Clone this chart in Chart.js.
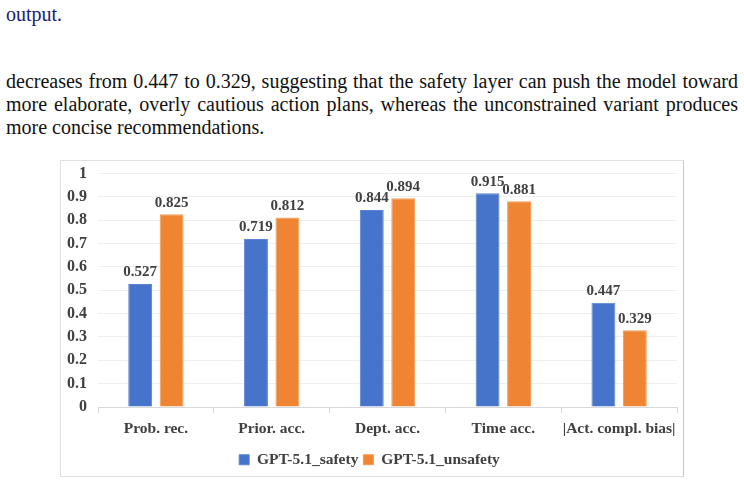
<!DOCTYPE html>
<html>
<head>
<meta charset="utf-8">
<script src="https://cdn.jsdelivr.net/npm/chart.js@4.4.0/dist/chart.umd.min.js"></script>
<style>
  body { margin: 0; width: 744px; height: 483px; background: #fff; position: relative; overflow: hidden; }
  .txt { position: absolute; left: 6px; width: 732px; font-family: "Liberation Serif", "Times New Roman", Times, serif;
         font-size: 20px; line-height: 23px; color: #111; white-space: nowrap; }
  .just { text-align: justify; text-align-last: justify; }
  #link { color: #1c1c78; top: 3px; }
  #chartBox { position: absolute; left: 60px; top: 160px; width: 622px; height: 315px;
              border: 1px solid #e0e0e0; border-right-color: #c6c6c6; }
</style>
</head>
<body>
<div class="txt" id="link">output.</div>
<div class="txt just" style="top:70px">decreases from 0.447 to 0.329, suggesting that the safety layer can push the model toward</div>
<div class="txt just" style="top:93px">more elaborate, overly cautious action plans, whereas the unconstrained variant produces</div>
<div class="txt" style="top:116px">more concise recommendations.</div>

<div id="chartBox"><canvas id="barChart" width="622" height="315"></canvas></div>

<script>
// chart data
const categories = ['Prob. rec.', 'Prior. acc.', 'Dept. acc.', 'Time acc.', '|Act. compl. bias|'];
const safetyValues = [0.527, 0.719, 0.844, 0.915, 0.447];
const unsafetyValues = [0.825, 0.812, 0.894, 0.881, 0.329];
const yTickLabels = ['0', '0.1', '0.2', '0.3', '0.4', '0.5', '0.6', '0.7', '0.8', '0.9', '1'];

const labelColor = '#404040';
const serif = '"Liberation Serif", "Times New Roman", serif';

// draws the value on top of each bar
const valueLabels = {
    id: 'valueLabels',
    afterDatasetsDraw(chart) {
        const ctx = chart.ctx;
        ctx.save();
        ctx.font = 'bold 15px ' + serif;
        ctx.fillStyle = labelColor;
        ctx.textAlign = 'center';
        ctx.textBaseline = 'bottom';
        chart.data.datasets.forEach((ds, i) => {
            chart.getDatasetMeta(i).data.forEach((bar, j) => {
                ctx.fillText(ds.data[j].toFixed(3), bar.x, bar.y - 4);
            });
        });
        ctx.restore();
    }
};

new Chart(document.getElementById('barChart'), {
    type: 'bar',
    data: {
        labels: categories,
        datasets: [
            { label: 'GPT-5.1_safety', data: safetyValues, backgroundColor: '#4674CB', borderColor: '#5a84d2', borderWidth: 1 },
            { label: 'GPT-5.1_unsafety', data: unsafetyValues, backgroundColor: '#EF8433', borderColor: '#f29a57', borderWidth: 1 }
        ]
    },
    options: {
        responsive: false,
        animation: false,
        layout: { padding: { left: 0, right: 5, top: 2, bottom: -1.5 } },
        datasets: { bar: { categoryPercentage: 0.543, barPercentage: 0.76 } },
        scales: {
            x: {
                grid: { drawOnChartArea: false, drawTicks: true, tickLength: 6, color: '#d9d9d9' },
                border: { display: true, color: '#d9d9d9' },
                ticks: {
                    color: labelColor, padding: 7, maxRotation: 0, minRotation: 0, autoSkip: false,
                    font: { family: serif, size: 15.5, weight: 'bold' }
                },
                afterFit(scale) { scale.height = 40; }
            },
            y: {
                min: 0, max: 1,
                ticks: {
                    stepSize: 0.1, color: labelColor, padding: 11,
                    font: { family: serif, size: 16, weight: 'bold' },
                    callback: (v, i) => yTickLabels[i]
                },
                grid: { color: '#efefef', drawTicks: false },
                border: { display: false },
                afterFit(scale) {
                    scale.width = 37;
                    scale.paddingTop = 12.5;
                    scale.paddingBottom = 9;
                }
            }
        },
        plugins: {
            legend: {
                position: 'bottom',
                labels: {
                    boxWidth: 10, boxHeight: 10, padding: 5, color: labelColor,
                    font: { family: serif, size: 15.5, weight: 'bold' }
                }
            },
            tooltip: { enabled: false }
        }
    },
    plugins: [valueLabels]
});
</script>
</body>
</html>
